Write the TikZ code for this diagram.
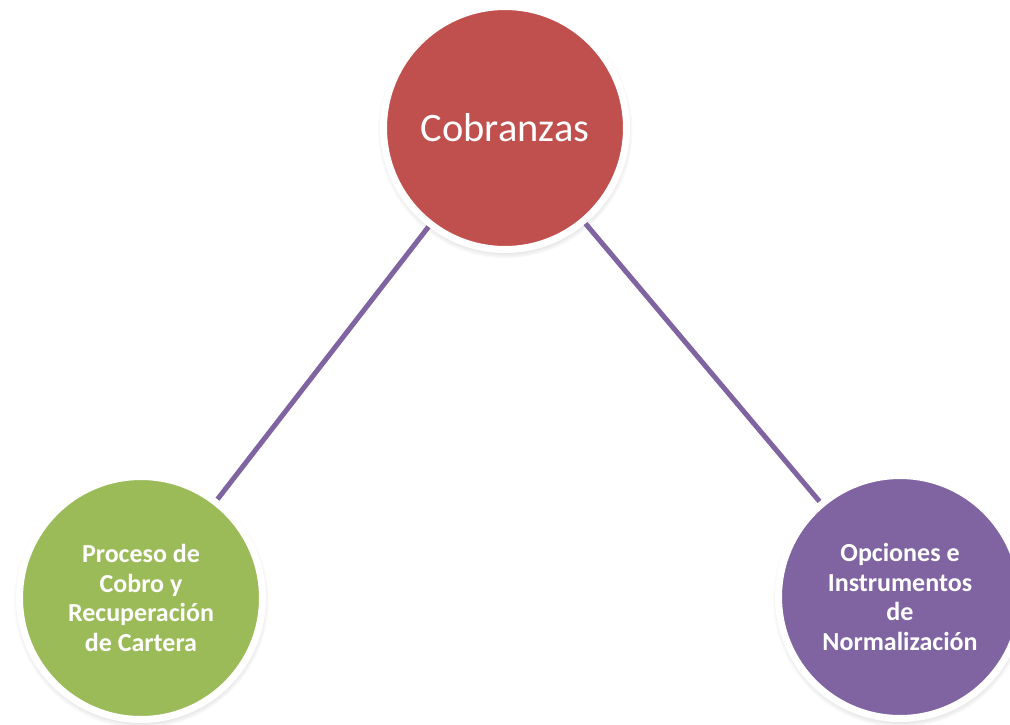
\documentclass[tikz,border=0pt]{standalone}
\usepackage{fontspec}
\setmainfont{Carlito}
\usetikzlibrary{shadows}
\definecolor{cobred}{HTML}{C0504D}
\definecolor{cobgreen}{HTML}{9BBB59}
\definecolor{cobpurple}{HTML}{8064A2}

\begin{document}
\begin{tikzpicture}[x=0.02cm,y=-0.02cm,
  main node/.style={circle,draw=white,line width=0.14cm,minimum size=4.86cm,inner sep=0pt,
    text=white,align=center,
    circular drop shadow={shadow xshift=0pt,shadow yshift=-1.5pt,opacity=0.6,shadow scale=1.05}},
  small text/.style={font=\fontsize{14.8}{16.8}\selectfont\bfseries},
  link/.style={draw=cobpurple,line width=0.1cm}]
  \useasboundingbox (0,0) rectangle (1010,724);

  \node[main node,fill=cobred,font=\fontsize{23}{27}\selectfont] (cob) at (505,128) {Cobranzas};

  \node[main node,fill=cobgreen,small text] (proc) at (141,598)
    {Proceso de\\Cobro y\\Recuperación\\de Cartera};
  \node[main node,fill=cobpurple,small text] (opc) at (900,597)
    {Opciones e\\Instrumentos\\de\\Normalización};

  \path[link]
   (cob) -- (proc)
   (cob) -- (opc);

\end{tikzpicture}
\end{document}
